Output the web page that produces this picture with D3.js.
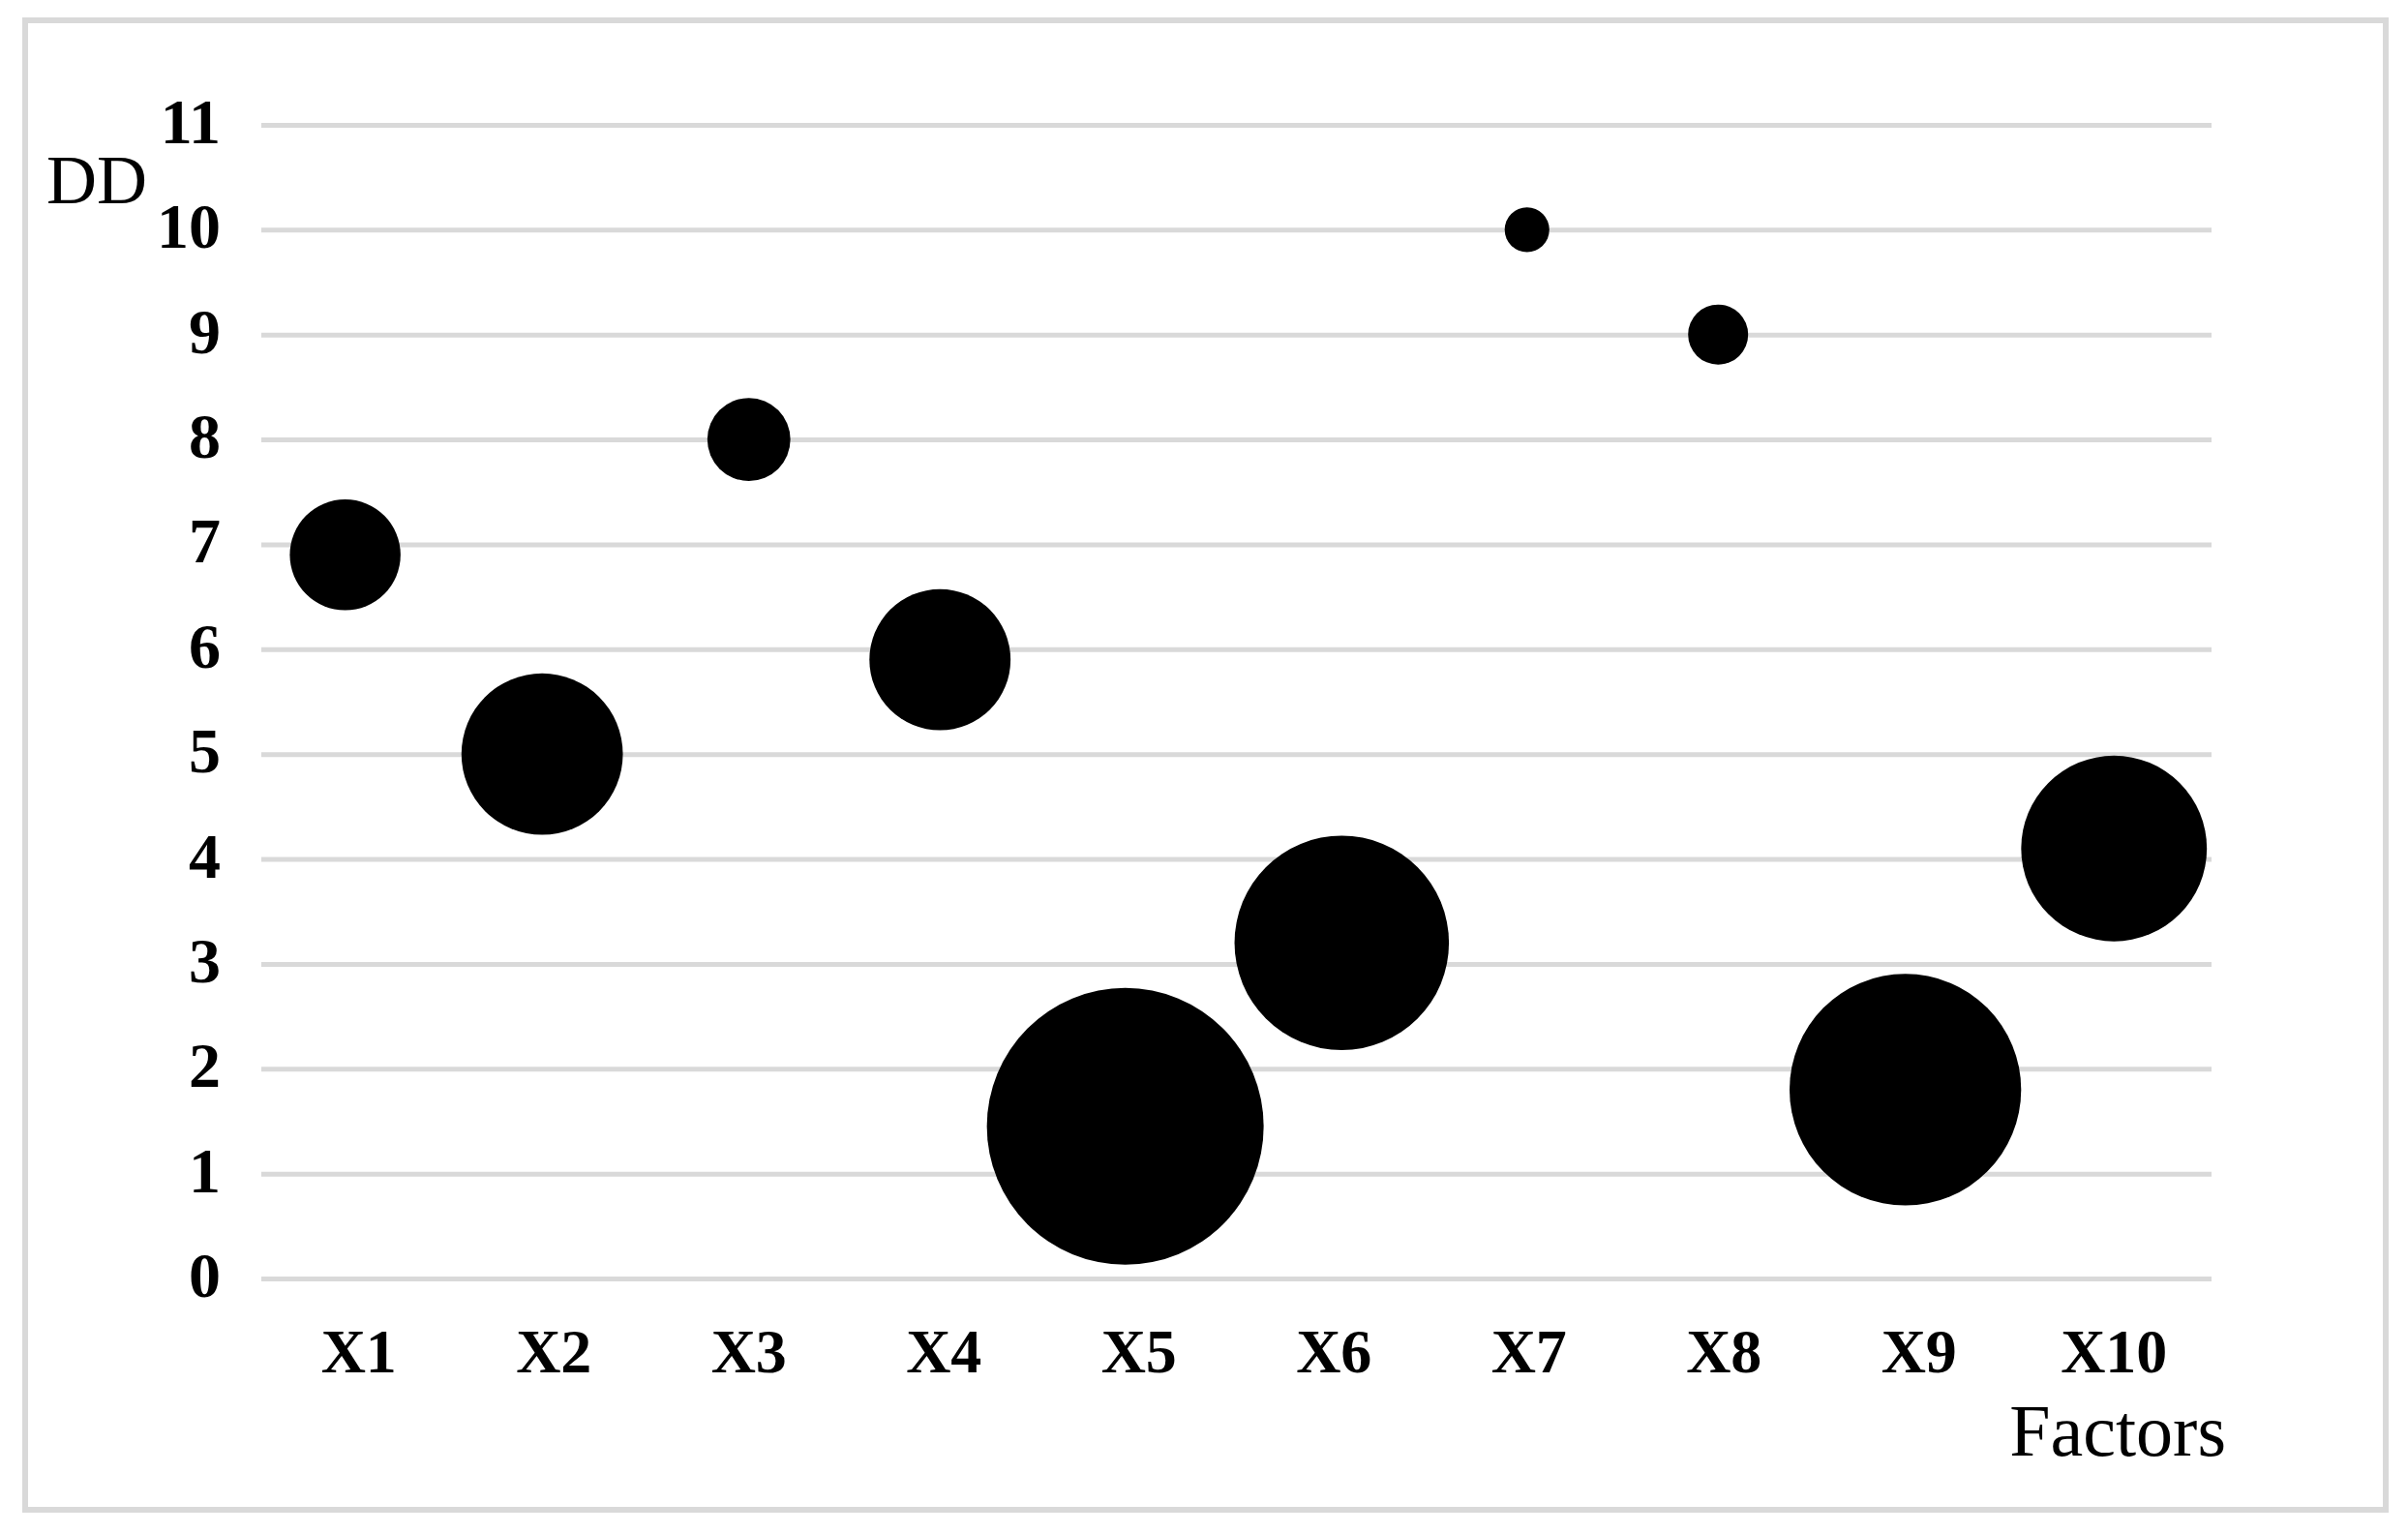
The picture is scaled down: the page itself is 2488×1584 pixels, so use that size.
<!DOCTYPE html>
<html>
<head>
<meta charset="utf-8">
<script src="https://cdn.jsdelivr.net/npm/d3@7"></script>
<style>
  html, body { margin: 0; padding: 0; background: #fff; }
  svg text { font-family: "Liberation Serif", "Times New Roman", serif; fill: #000; }
</style>
</head>
<body>
<div id="chart"></div>
<script>
// data
const factors = ["X1", "X2", "X3", "X4", "X5", "X6", "X7", "X8", "X9", "X10"]
const xPositions = [0.93, 1.94, 3.0, 3.98, 4.93, 6.04, 6.99, 7.97, 8.93, 10.0]
const ddValues = [6.9, 5.0, 8.0, 5.9, 1.45, 3.2, 10.0, 9.0, 1.8, 4.1]
const bubbleSizes = [1.6, 3.4, 0.9, 2.6, 10, 6.0, 0.26, 0.47, 7.0, 4.5]
const yTicks = [0, 1, 2, 3, 4, 5, 6, 7, 8, 9, 10, 11]

const conf = {
    width: 2488,
    height: 1584,
    left: 270,
    right: 2285,
    top: 129,
    bottom: 1321,
    maxRadius: 143,
    gridColor: "#d9d9d9"
}

let svg = d3.select("#chart").append("svg")
    .attr("id", "bubble-chart")
    .attr("width", conf.width)
    .attr("height", conf.height)

// outer frame
svg.append("rect")
    .attr("x", 26)
    .attr("y", 21)
    .attr("width", 2439)
    .attr("height", 1539)
    .attr("fill", "none")
    .attr("stroke", conf.gridColor)
    .attr("stroke-width", 6)

let x = d3.scaleBand().domain(factors).range([conf.left, conf.right]).padding(0)
let xNum = d3.scaleLinear().domain([0.5, 10.5]).range([conf.left, conf.right])
let y = d3.scaleLinear().domain([0, 11]).range([conf.bottom, conf.top])
let r = d3.scaleSqrt().domain([0, 10]).range([0, conf.maxRadius])

// y axis with gridlines
let yAxis = d3.axisLeft(y)
    .tickValues(yTicks)
    .tickFormat(d3.format("d"))
    .tickSize(-(conf.right - conf.left))
    .tickPadding(42)

let yg = svg.append("g")
    .attr("class", "y axis")
    .attr("transform", "translate(" + conf.left + ",0)")
    .call(yAxis)
yg.select(".domain").remove()
yg.selectAll(".tick line")
    .attr("stroke", conf.gridColor)
    .attr("stroke-width", 5)
yg.selectAll(".tick text")
    .attr("dy", "0.28em")
    .style("font-size", "66px")
    .style("font-weight", "bold")

// x axis labels
let xAxis = d3.axisBottom(x).tickSize(0).tickPadding(52)
let xg = svg.append("g")
    .attr("class", "x axis")
    .attr("transform", "translate(0," + conf.bottom + ")")
    .call(xAxis)
xg.select(".domain").remove()
xg.selectAll(".tick text")
    .style("font-size", "64px")
    .style("font-weight", "bold")

// bubbles
let points = factors.map((f, i) => ({factor: f, pos: xPositions[i], dd: ddValues[i], size: bubbleSizes[i]}))
svg.append("g")
    .attr("class", "bubbles")
    .selectAll("circle")
    .data(points)
    .join("circle")
    .attr("cx", d => xNum(d.pos))
    .attr("cy", d => y(d.dd))
    .attr("r", d => r(d.size))
    .attr("fill", "#000")

// axis titles
svg.append("text")
    .attr("x", 152)
    .attr("y", 210)
    .attr("text-anchor", "end")
    .style("font-size", "72px")
    .text("DD")

svg.append("text")
    .attr("x", 2300)
    .attr("y", 1504)
    .attr("text-anchor", "end")
    .style("font-size", "76px")
    .text("Factors")
</script>
</body>
</html>
